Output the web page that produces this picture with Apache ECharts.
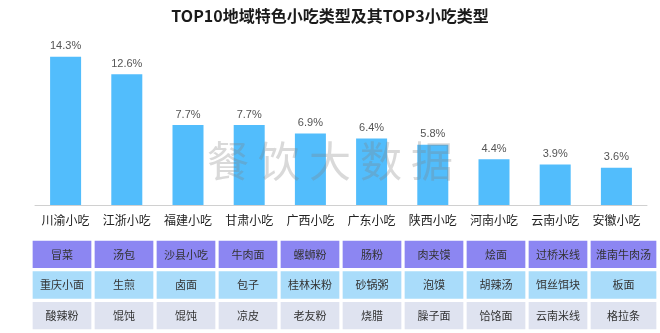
<!DOCTYPE html>
<html>
<head>
<meta charset="utf-8">
<script src="https://cdn.jsdelivr.net/npm/echarts@6/dist/echarts.min.js"></script>
<style>html,body{margin:0;padding:0;background:#fff}#c{width:660px;height:333px}</style>
</head>
<body>
<div id="c"></div>
<script>
const titleText = 'TOP10地域特色小吃类型及其TOP3小吃类型';
const categories = ['川渝小吃','江浙小吃','福建小吃','甘肃小吃','广西小吃','广东小吃','陕西小吃','河南小吃','云南小吃','安徽小吃'];
const shares = [14.3,12.6,7.7,7.7,6.9,6.4,5.8,4.4,3.9,3.6];
const top1 = ['冒菜','汤包','沙县小吃','牛肉面','螺蛳粉','肠粉','肉夹馍','烩面','过桥米线','淮南牛肉汤'];
const top2 = ['重庆小面','生煎','卤面','包子','桂林米粉','砂锅粥','泡馍','胡辣汤','饵丝饵块','板面'];
const top3 = ['酸辣粉','馄饨','馄饨','凉皮','老友粉','烧腊','臊子面','饸饹面','云南米线','格拉条'];
const rankRows = ['TOP1','TOP2','TOP3'];
const watermark = ['餐','饮','大','数','据'];

const CJK = '"Noto Sans CJK SC", "Noto Sans", sans-serif';
const rowColors = ['#8c86f2','#a9dcfa','#dfe3f0'];
const rowsData = [top1, top2, top3];
const cellData = [];
rowsData.forEach((row, r) => row.forEach((t, c) => cellData.push([c, r, t])));

const chart = echarts.init(document.getElementById('c'), null, {renderer:'canvas'});
chart.setOption({
  animation: false,
  backgroundColor: '#fff',
  title: {
    text: titleText, left: 'center', top: 3,
    textStyle: {fontFamily: CJK, fontSize: 16, fontWeight: 'bold', color: '#1a1a1a'}
  },
  graphic: watermark.map((ch, i) => ({
    type: 'text', left: 207 + i * 51, top: 140, z: 100, silent: true,
    style: {text: ch, font: '42px ' + CJK, fill: 'rgba(128,128,128,0.3)'}
  })),
  grid: [
    {left: 35, right: 13, top: 39, bottom: 128},
    {left: 31, right: 9, top: 239, bottom: 2}
  ],
  xAxis: [
    {type: 'category', gridIndex: 0, data: categories,
     axisLine: {lineStyle: {color: '#d0d0d0'}}, axisTick: {show: false},
     axisLabel: {fontFamily: CJK, fontSize: 12, color: '#222', margin: 9, interval: 0}},
    {type: 'category', gridIndex: 1, data: categories, show: false}
  ],
  yAxis: [
    {type: 'value', gridIndex: 0, min: 0, max: 16, show: false, splitLine: {show: false}},
    {type: 'category', gridIndex: 1, data: rankRows, inverse: true, show: false}
  ],
  series: [
    {type: 'bar', xAxisIndex: 0, yAxisIndex: 0, data: shares, barWidth: 31,
     itemStyle: {color: '#52bdfc'},
     label: {show: true, position: 'top', distance: 5, formatter: p => p.value.toFixed(1) + '%',
             fontFamily: '"Liberation Sans", Arial, sans-serif', fontSize: 11, color: '#555'}},
    {type: 'custom', xAxisIndex: 1, yAxisIndex: 1, data: cellData,
     encode: {x: 0, y: 1},
     renderItem: function (params, api) {
       const c = api.value(0), r = api.value(1);
       const pt = api.coord([c, r]);
       const sz = api.size([1, 1]);
       const gap = 3.3;
       const w = sz[0] - gap, h = sz[1] - gap;
       const extra = c === categories.length - 1 ? 7 : 0;
       const item = cellData[params.dataIndex];
       return {
         type: 'rect',
         shape: {x: pt[0] - w / 2, y: pt[1] - h / 2, width: w + extra, height: h},
         style: {fill: rowColors[r]},
         textContent: {style: {text: item[2], font: '11px ' + CJK, fill: '#333'}},
         textConfig: {position: 'inside'}
       };
     }}
  ]
});
</script>
</body>
</html>
